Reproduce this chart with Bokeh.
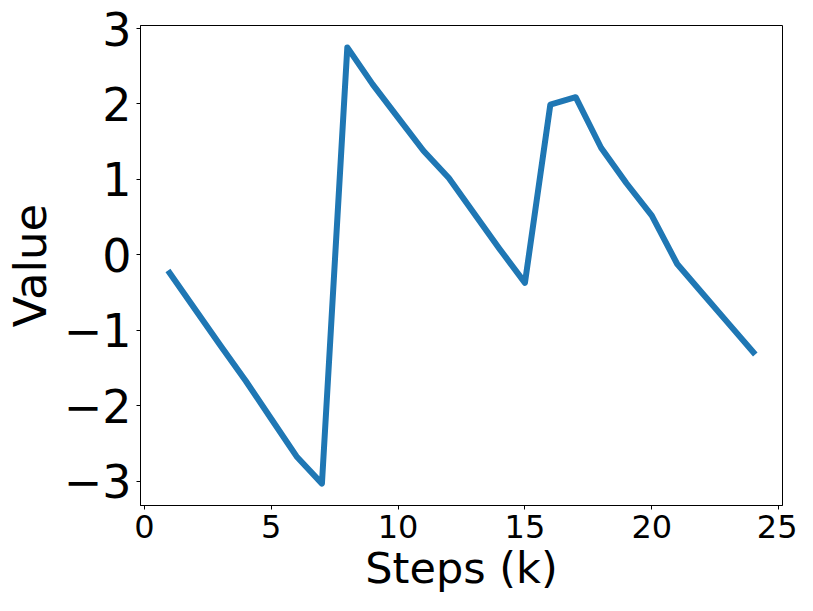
from bokeh.plotting import figure
from bokeh.models import Range1d, FixedTicker
from bokeh.embed import file_html
from bokeh.resources import INLINE

steps = list(range(1, 25))
values = [-0.24, -0.72, -1.20, -1.67, -2.17, -2.67, -3.03, 2.75, 2.26, 1.82, 1.38, 1.02,
          0.55, 0.08, -0.37, 1.99, 2.09, 1.42, 0.95, 0.52, -0.12, -0.51, -0.90, -1.29]
x_ticks = [0, 5, 10, 15, 20, 25]
y_ticks = [-3, -2, -1, 0, 1, 2, 3]
x_title = "Steps (k)"
y_title = "Value"

FONT = "DejaVu Sans"

p = figure(output_backend="svg", toolbar_location=None,
           width=797, height=595,
           min_border_left=139, min_border_top=25, min_border_right=15, min_border_bottom=90,
           x_range=Range1d(-0.15, 25.15), y_range=Range1d(-3.32, 3.04))

p.line(steps, values, line_color="#1f77b4", line_width=6, line_join="round", line_cap="square")

p.xgrid.visible = False
p.ygrid.visible = False
p.outline_line_color = "black"
p.outline_line_width = 1
p.outline_line_alpha = 1.0

for ax in (p.xaxis[0], p.yaxis[0]):
    ax.axis_line_color = "black"
    ax.major_tick_line_color = "black"
    ax.major_tick_out = 4
    ax.major_tick_in = 0
    ax.minor_tick_line_color = None
    ax.major_label_text_font = FONT
    ax.axis_label_text_font = FONT
    ax.axis_label_text_font_style = "normal"
    ax.major_label_text_color = "black"
    ax.axis_label_text_color = "black"

p.xaxis[0].ticker = FixedTicker(ticks=x_ticks)
p.yaxis[0].ticker = FixedTicker(ticks=y_ticks)
p.yaxis[0].major_label_overrides = {t: (str(t).replace("-", "\u2212")) for t in y_ticks}
p.xaxis[0].major_label_text_font_size = "32px"
p.yaxis[0].major_label_text_font_size = "46px"
p.xaxis[0].axis_label = x_title
p.yaxis[0].axis_label = y_title
p.xaxis[0].axis_label_text_font_size = "43px"
p.yaxis[0].axis_label_text_font_size = "45px"
p.xaxis[0].major_label_standoff = 5
p.yaxis[0].major_label_standoff = 5
p.xaxis[0].axis_label_standoff = 2
p.yaxis[0].axis_label_standoff = 4

open("out.html", "w").write(file_html(p, INLINE))
